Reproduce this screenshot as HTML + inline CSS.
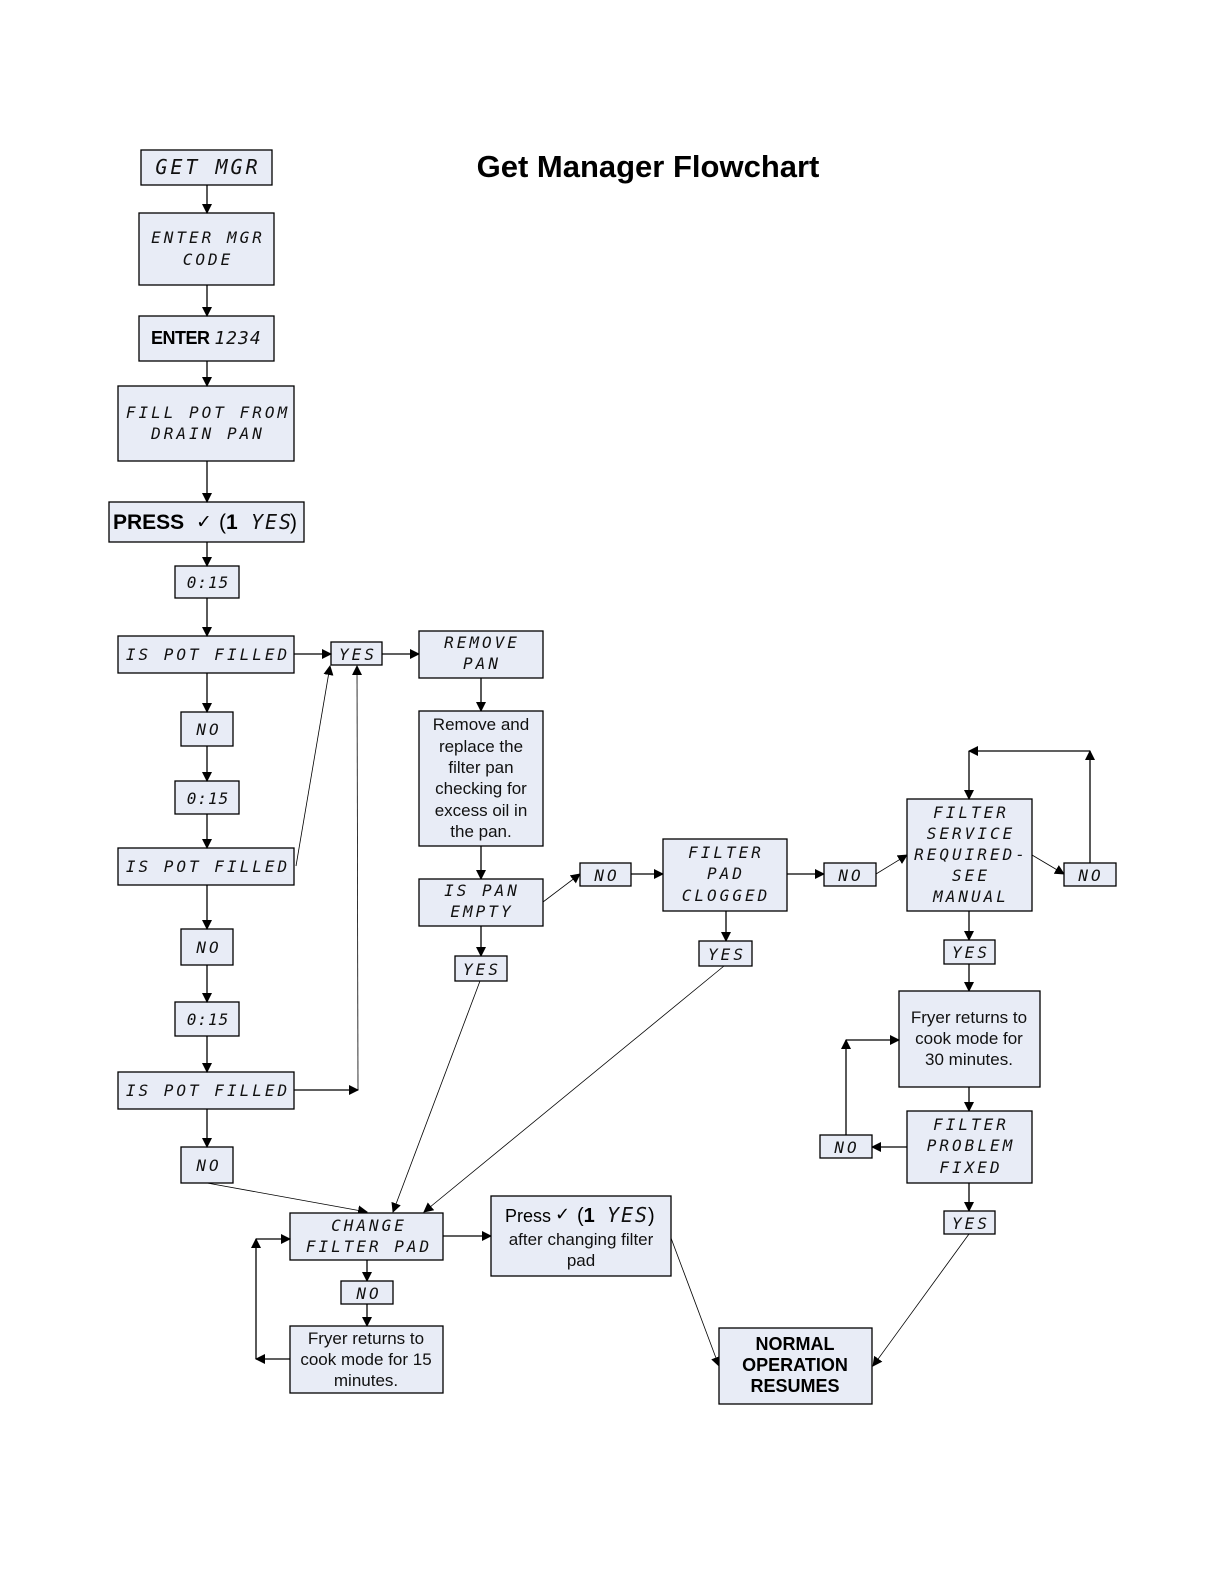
<!DOCTYPE html>
<html><head><meta charset="utf-8"><style>
html,body{margin:0;padding:0;background:#fff;overflow:hidden;width:1224px;height:1584px}
svg{display:block}
.b{fill:#e8ecf6;stroke:#000;stroke-width:1.3}
.l{font-family:"DejaVu Sans Mono","Liberation Mono",monospace;font-style:oblique;font-size:16px;letter-spacing:3px;text-anchor:middle;fill:#111}
.t{font-family:"Liberation Sans",sans-serif;font-size:17px;text-anchor:middle;fill:#111}
.bt{font-family:"Liberation Sans",sans-serif;font-size:19px;font-weight:bold;text-anchor:middle;fill:#000}
line,polyline{stroke:#000;stroke-width:1.3;fill:none}
.th{stroke-width:0.8}
</style></head><body>
<svg width="1224" height="1584" viewBox="0 0 1224 1584" xmlns="http://www.w3.org/2000/svg">
<defs><marker id="a" markerWidth="10" markerHeight="10" refX="9" refY="5" orient="auto" markerUnits="userSpaceOnUse"><path d="M0,0 L10,5 L0,10 z" fill="#000"/></marker></defs>
<text x="648" y="177" font-family="Liberation Sans,sans-serif" font-size="31" font-weight="bold" text-anchor="middle">Get Manager Flowchart</text>

<rect class="b" x="141" y="150" width="131" height="35"/><text class="l" x="208" y="174" style="font-size:20px">GET MGR</text>
<rect class="b" x="139" y="213" width="135" height="72"/><text class="l" x="208" y="243">ENTER MGR</text><text class="l" x="208" y="265">CODE</text>
<rect class="b" x="139" y="316" width="135" height="45"/><text x="151" y="344" font-family="Liberation Sans,sans-serif" font-size="18" font-weight="bold" letter-spacing="-0.5">ENTER</text><text class="l" x="238" y="344" style="font-size:18px;letter-spacing:1px">1234</text>
<rect class="b" x="118" y="386" width="176" height="75"/><text class="l" x="208" y="418">FILL POT FROM</text><text class="l" x="208" y="439">DRAIN PAN</text>
<rect class="b" x="109" y="502" width="195" height="40"/><text x="113" y="529" font-family="Liberation Sans,sans-serif" font-size="21" font-weight="bold">PRESS</text><text x="196" y="528" font-family="DejaVu Sans,sans-serif" font-size="19">✓</text><text x="219" y="529" font-family="Liberation Sans,sans-serif" font-size="21">(<tspan font-weight="bold">1</tspan></text><text class="l" x="272" y="529" style="font-size:20px;letter-spacing:2px">YES</text><text x="290" y="529" font-family="Liberation Sans,sans-serif" font-size="21">)</text>
<rect class="b" x="175" y="566" width="64" height="32"/><text class="l" x="208" y="588" style="letter-spacing:1px">0:15</text>
<rect class="b" x="118" y="636" width="176" height="37"/><text class="l" x="208" y="660">IS POT FILLED</text>
<rect class="b" x="181" y="712" width="52" height="34"/><text class="l" x="209" y="735">NO</text>
<rect class="b" x="175" y="781" width="64" height="33"/><text class="l" x="208" y="804" style="letter-spacing:1px">0:15</text>
<rect class="b" x="118" y="848" width="176" height="37"/><text class="l" x="208" y="872">IS POT FILLED</text>
<rect class="b" x="181" y="929" width="52" height="36"/><text class="l" x="209" y="953">NO</text>
<rect class="b" x="175" y="1002" width="64" height="34"/><text class="l" x="208" y="1025" style="letter-spacing:1px">0:15</text>
<rect class="b" x="118" y="1072" width="176" height="37"/><text class="l" x="208" y="1096">IS POT FILLED</text>
<rect class="b" x="181" y="1147" width="52" height="36"/><text class="l" x="209" y="1171">NO</text>

<line x1="207" y1="185" x2="207" y2="213" marker-end="url(#a)"/>
<line x1="207" y1="285" x2="207" y2="316" marker-end="url(#a)"/>
<line x1="207" y1="361" x2="207" y2="386" marker-end="url(#a)"/>
<line x1="207" y1="461" x2="207" y2="502" marker-end="url(#a)"/>
<line x1="207" y1="542" x2="207" y2="566" marker-end="url(#a)"/>
<line x1="207" y1="598" x2="207" y2="636" marker-end="url(#a)"/>
<line x1="207" y1="673" x2="207" y2="712" marker-end="url(#a)"/>
<line x1="207" y1="746" x2="207" y2="781" marker-end="url(#a)"/>
<line x1="207" y1="814" x2="207" y2="848" marker-end="url(#a)"/>
<line x1="207" y1="885" x2="207" y2="929" marker-end="url(#a)"/>
<line x1="207" y1="965" x2="207" y2="1002" marker-end="url(#a)"/>
<line x1="207" y1="1036" x2="207" y2="1072" marker-end="url(#a)"/>
<line x1="207" y1="1109" x2="207" y2="1147" marker-end="url(#a)"/>

<rect class="b" x="331" y="642" width="51" height="23"/><text class="l" x="358" y="660">YES</text>
<line x1="294" y1="654" x2="331" y2="654" marker-end="url(#a)"/>
<line x1="382" y1="654" x2="419" y2="654" marker-end="url(#a)"/>
<line class="th" x1="296" y1="866" x2="330" y2="666" marker-end="url(#a)"/>
<line class="th" x1="358" y1="1090" x2="357" y2="666" marker-end="url(#a)"/>
<line x1="294" y1="1090" x2="358" y2="1090" marker-end="url(#a)"/>

<rect class="b" x="419" y="631" width="124" height="47"/><text class="l" x="482" y="648">REMOVE</text><text class="l" x="482" y="669">PAN</text>
<line x1="481" y1="678" x2="481" y2="711" marker-end="url(#a)"/>
<rect class="b" x="419" y="711" width="124" height="135"/>
<text class="t" x="481" y="730">Remove and</text><text class="t" x="481" y="752">replace the</text><text class="t" x="481" y="773">filter pan</text><text class="t" x="481" y="794">checking for</text><text class="t" x="481" y="816">excess oil in</text><text class="t" x="481" y="837">the pan.</text>
<line x1="481" y1="846" x2="481" y2="879" marker-end="url(#a)"/>
<rect class="b" x="419" y="879" width="124" height="47"/><text class="l" x="482" y="896">IS PAN</text><text class="l" x="482" y="917">EMPTY</text>
<line x1="481" y1="926" x2="481" y2="956" marker-end="url(#a)"/>
<rect class="b" x="455" y="956" width="52" height="25"/><text class="l" x="482" y="975">YES</text>
<line class="th" x1="543" y1="902" x2="580" y2="874" marker-end="url(#a)"/>
<rect class="b" x="580" y="863" width="51" height="23"/><text class="l" x="607" y="881">NO</text>
<line x1="631" y1="874" x2="663" y2="874" marker-end="url(#a)"/>
<rect class="b" x="663" y="839" width="124" height="72"/><text class="l" x="726" y="858">FILTER</text><text class="l" x="726" y="879">PAD</text><text class="l" x="726" y="901">CLOGGED</text>
<line x1="726" y1="911" x2="726" y2="941" marker-end="url(#a)"/>
<rect class="b" x="699" y="941" width="53" height="25"/><text class="l" x="727" y="960">YES</text>
<line x1="787" y1="874" x2="824" y2="874" marker-end="url(#a)"/>
<rect class="b" x="824" y="863" width="52" height="23"/><text class="l" x="851" y="881">NO</text>
<line class="th" x1="876" y1="874" x2="907" y2="855" marker-end="url(#a)"/>
<rect class="b" x="907" y="799" width="125" height="112"/>
<text class="l" x="971" y="818">FILTER</text><text class="l" x="971" y="839">SERVICE</text><text class="l" x="971" y="860">REQUIRED-</text><text class="l" x="971" y="881">SEE</text><text class="l" x="971" y="902">MANUAL</text>
<line class="th" x1="1032" y1="855" x2="1064" y2="874" marker-end="url(#a)"/>
<rect class="b" x="1064" y="863" width="52" height="23"/><text class="l" x="1091" y="881">NO</text>
<line x1="1090" y1="863" x2="1090" y2="751" marker-end="url(#a)"/>
<line x1="1090" y1="751" x2="969" y2="751" marker-end="url(#a)"/>
<line x1="969" y1="751" x2="969" y2="799" marker-end="url(#a)"/>
<line x1="969" y1="911" x2="969" y2="940" marker-end="url(#a)"/>
<rect class="b" x="944" y="940" width="51" height="24"/><text class="l" x="971" y="958">YES</text>
<line x1="969" y1="964" x2="969" y2="991" marker-end="url(#a)"/>
<rect class="b" x="899" y="991" width="141" height="96"/>
<text class="t" x="969" y="1023">Fryer returns to</text><text class="t" x="969" y="1044">cook mode for</text><text class="t" x="969" y="1065">30 minutes.</text>
<line x1="969" y1="1087" x2="969" y2="1111" marker-end="url(#a)"/>
<rect class="b" x="907" y="1111" width="125" height="72"/><text class="l" x="971" y="1130">FILTER</text><text class="l" x="971" y="1151">PROBLEM</text><text class="l" x="971" y="1173">FIXED</text>
<line x1="907" y1="1147" x2="872" y2="1147" marker-end="url(#a)"/>
<rect class="b" x="820" y="1135" width="52" height="23"/><text class="l" x="847" y="1153">NO</text>
<line x1="846" y1="1135" x2="846" y2="1040" marker-end="url(#a)"/>
<line x1="846" y1="1040" x2="899" y2="1040" marker-end="url(#a)"/>
<line x1="969" y1="1183" x2="969" y2="1211" marker-end="url(#a)"/>
<rect class="b" x="944" y="1211" width="51" height="23"/><text class="l" x="971" y="1229">YES</text>

<line class="th" x1="207" y1="1183" x2="367" y2="1212" marker-end="url(#a)"/>
<line class="th" x1="480" y1="981" x2="393" y2="1212" marker-end="url(#a)"/>
<line class="th" x1="724" y1="966" x2="424" y2="1212" marker-end="url(#a)"/>
<rect class="b" x="290" y="1213" width="153" height="47"/><text class="l" x="369" y="1231">CHANGE</text><text class="l" x="369" y="1252">FILTER PAD</text>
<line x1="443" y1="1236" x2="491" y2="1236" marker-end="url(#a)"/>
<line x1="367" y1="1260" x2="367" y2="1281" marker-end="url(#a)"/>
<rect class="b" x="341" y="1281" width="52" height="23"/><text class="l" x="369" y="1299">NO</text>
<line x1="367" y1="1304" x2="367" y2="1326" marker-end="url(#a)"/>
<rect class="b" x="290" y="1326" width="153" height="67"/>
<text class="t" x="366" y="1344">Fryer returns to</text><text class="t" x="366" y="1365">cook mode for 15</text><text class="t" x="366" y="1386">minutes.</text>
<line x1="290" y1="1359" x2="256" y2="1359" marker-end="url(#a)"/>
<line x1="256" y1="1359" x2="256" y2="1239" marker-end="url(#a)"/>
<line x1="256" y1="1239" x2="290" y2="1239" marker-end="url(#a)"/>
<rect class="b" x="491" y="1196" width="180" height="80"/>
<text x="505" y="1222" font-family="Liberation Sans,sans-serif" font-size="18">Press</text><text x="555" y="1220" font-family="DejaVu Sans,sans-serif" font-size="18">✓</text><text x="577" y="1222" font-family="Liberation Sans,sans-serif" font-size="20">(<tspan font-weight="bold">1</tspan></text><text class="l" x="628" y="1222" style="font-size:20px;letter-spacing:2px">YES</text><text x="648" y="1222" font-family="Liberation Sans,sans-serif" font-size="20">)</text>
<text class="t" x="581" y="1245">after changing filter</text><text class="t" x="581" y="1266">pad</text>
<line class="th" x1="671" y1="1238" x2="719" y2="1366" marker-end="url(#a)"/>
<line class="th" x1="969" y1="1234" x2="873" y2="1366" marker-end="url(#a)"/>
<rect class="b" x="719" y="1328" width="153" height="76"/>
<text class="bt" x="795" y="1350" style="font-size:18px">NORMAL</text><text class="bt" x="795" y="1371" style="font-size:18px">OPERATION</text><text class="bt" x="795" y="1392" style="font-size:18px">RESUMES</text>
</svg>
</body></html>
